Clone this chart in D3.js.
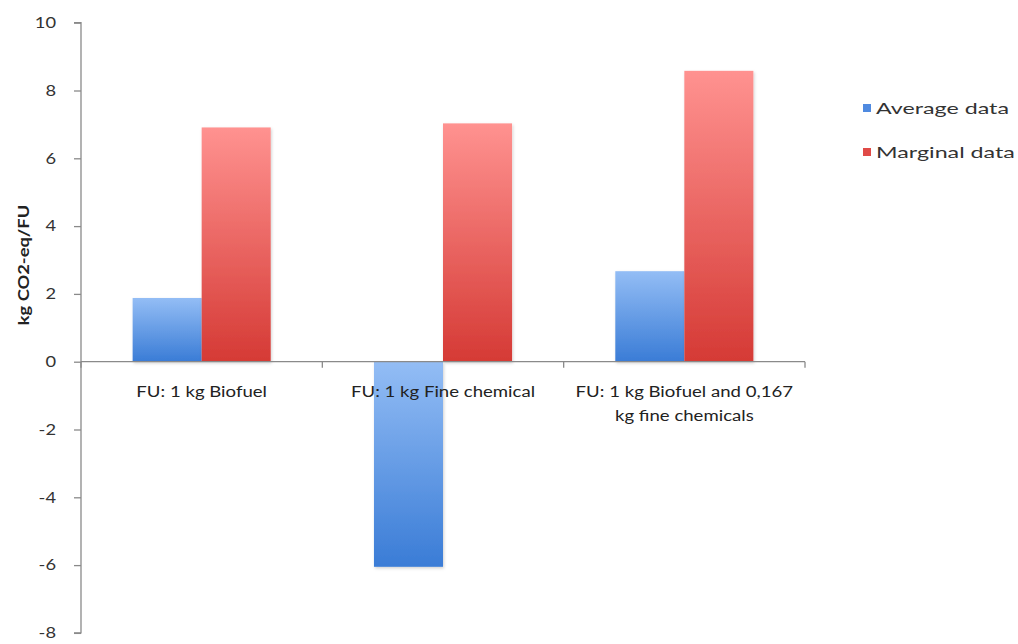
<!DOCTYPE html>
<html><head><meta charset="utf-8">
<script src="https://cdn.jsdelivr.net/npm/d3@7"></script>
<style>body{margin:0;background:#fff}svg{display:block}</style>
</head><body>
<svg id="chart" width="1018" height="644"></svg>
<script>
const categories = [["FU: 1 kg Biofuel"], ["FU: 1 kg Fine chemical"], ["FU: 1 kg Biofuel and 0,167", "kg fine chemicals"]];
const seriesNames = ["Average data", "Marginal data"];
const averageData = [1.88, -6.05, 2.67];
const marginalData = [6.91, 7.03, 8.58];
const yTicks = [10, 8, 6, 4, 2, 0, -2, -4, -6, -8];
const yLabel = "kg CO2-eq/FU";

const svg = d3.select("#chart");
const font = "Lato, 'Open Sans', sans-serif";
const x0 = 81, x1 = 805, yTop = 22.7, yBot = 632.9;
// horizontal stretch of the text in the reference picture
const stretch = 1.24;

const defs = svg.append("defs");
function grad(id, c1, c2) {
  const g = defs.append("linearGradient").attr("id", id).attr("x1", 0).attr("y1", 0).attr("x2", 0).attr("y2", 1);
  g.append("stop").attr("offset", "0%").attr("stop-color", c1);
  g.append("stop").attr("offset", "100%").attr("stop-color", c2);
}
grad("gBlue", "#93bdf5", "#3a7cd6");
grad("gRed", "#ff9290", "#d53a35");
const f = defs.append("filter").attr("id", "sh").attr("x", "-10%").attr("y", "-10%").attr("width", "130%").attr("height", "130%");
f.append("feDropShadow").attr("dx", 1).attr("dy", 1.5).attr("stdDeviation", 1.5).attr("flood-color", "#000").attr("flood-opacity", 0.18);

const y = d3.scaleLinear().domain([-8, 10]).range([yBot, yTop]);
const xBand = d3.scaleBand().domain(d3.range(categories.length)).range([x0, x1]).paddingInner(0).paddingOuter(0);
const xSub = d3.scaleBand().domain([0, 1]).range([0, xBand.bandwidth()]).paddingOuter(0.748).paddingInner(0);

// bars
const series = [averageData, marginalData];
const fills = ["url(#gBlue)", "url(#gRed)"];
series.forEach((vals, si) => {
  svg.append("g").selectAll("rect").data(vals).join("rect")
    .attr("x", (d, i) => xBand(i) + xSub(si))
    .attr("width", xSub.bandwidth())
    .attr("y", d => y(Math.max(0, d)))
    .attr("height", d => Math.abs(y(d) - y(0)))
    .attr("fill", fills[si])
    .attr("filter", "url(#sh)");
});

// y axis
const yAxis = svg.append("g").attr("transform", `translate(${x0},0)`)
  .call(d3.axisLeft(y).tickValues(yTicks).tickSize(7).tickPadding(0).tickFormat(d => String(d)));
yAxis.select(".domain").attr("stroke", "#8a8a8a").attr("stroke-width", 1.3).attr("d", `M-7,${yTop}H0V${yBot}H-7`);
yAxis.selectAll(".tick line").attr("stroke", "#8a8a8a").attr("stroke-width", 1.3);
yAxis.selectAll(".tick text").attr("font-family", font).attr("font-size", 15).attr("fill", "#333")
  .attr("x", null).attr("transform", `translate(-25,0) scale(1.22,1)`);

// x axis at zero
const xg = svg.append("g").attr("transform", `translate(0,${y(0)})`);
xg.append("line").attr("x1", x0).attr("x2", x1).attr("stroke", "#8a8a8a").attr("stroke-width", 1.3);
xg.selectAll("line.tk").data(d3.range(categories.length + 1)).join("line").attr("class", "tk")
  .attr("x1", i => x0 + i * xBand.step()).attr("x2", i => x0 + i * xBand.step())
  .attr("y1", 0).attr("y2", 6).attr("stroke", "#8a8a8a").attr("stroke-width", 1.3);

// category labels (horizontally stretched like the reference)
categories.forEach((lines, i) => {
  const cx = xBand(i) + xBand.bandwidth() / 2;
  const t = svg.append("text").attr("font-family", font).attr("font-size", 15).attr("fill", "#222")
    .attr("text-anchor", "middle").attr("transform", `translate(${cx},0) scale(${stretch},1)`);
  lines.forEach((l, j) => t.append("tspan").attr("x", 0).attr("y", 397 + j * 24).text(l));
});

// y label
svg.append("text").attr("transform", "translate(29,265) rotate(-90) scale(1.22,1)")
  .attr("text-anchor", "middle").attr("font-family", font).attr("font-size", 15)
  .attr("font-weight", "bold").attr("fill", "#222").text(yLabel);

// legend
const leg = svg.append("g");
const legColors = ["#4f8ae0", "#e04a47"];
seriesNames.forEach((n, i) => {
  const gy = 109 + i * 44;
  leg.append("rect").attr("x", 863).attr("y", gy - 5).attr("width", 8).attr("height", 8).attr("fill", legColors[i]);
  leg.append("text").attr("transform", `translate(876,${gy + 5}) scale(1.5,1)`)
    .attr("font-family", font).attr("font-size", 15.5).attr("fill", "#333").text(n);
});
</script>
</body></html>
